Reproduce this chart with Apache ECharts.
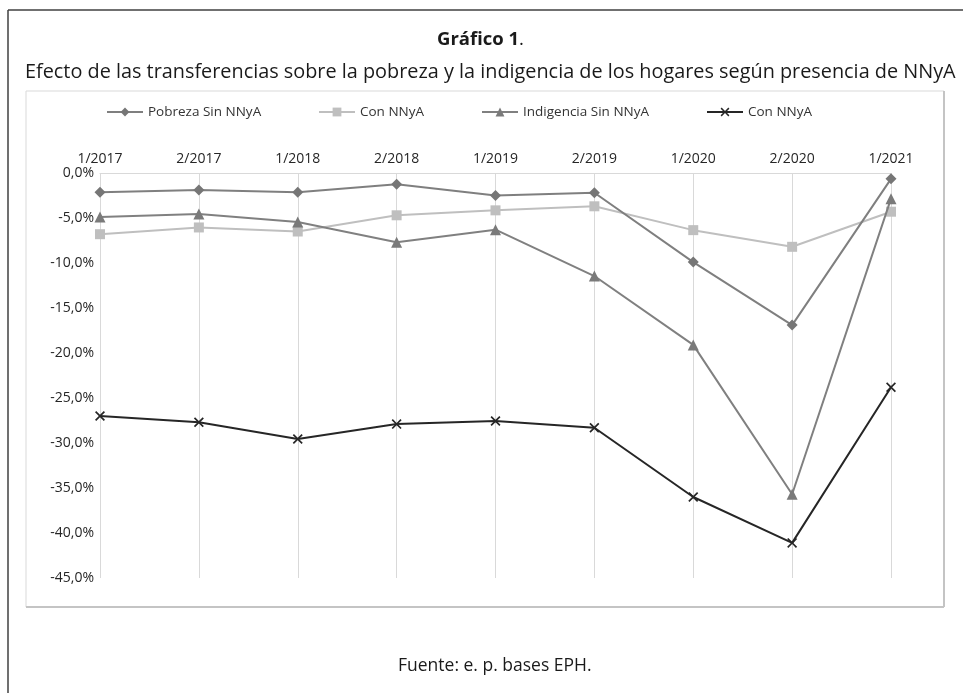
<!DOCTYPE html>
<html>
<head>
<meta charset="utf-8">
<script src="https://cdn.jsdelivr.net/npm/echarts@6/dist/echarts.min.js"></script>
<style>
html,body{margin:0;padding:0;background:#fff;}
#chart{width:963px;height:693px;}
</style>
</head>
<body>
<div id="chart"></div>
<script>
const categories = ['1/2017','2/2017','1/2018','2/2018','1/2019','2/2019','1/2020','2/2020','1/2021'];
const pobrezaSin = [-2.15, -1.9, -2.15, -1.25, -2.5, -2.2, -9.9, -16.9, -0.65];
const pobrezaCon = [-6.8, -6.05, -6.5, -4.7, -4.15, -3.7, -6.35, -8.2, -4.3];
const indigenciaSin = [-4.9, -4.55, -5.45, -7.7, -6.3, -11.45, -19.1, -35.7, -2.85];
const indigenciaCon = [-27.0, -27.7, -29.55, -27.9, -27.55, -28.3, -36.0, -41.1, -23.8];
const yTicks = {min: -45, max: 0, interval: 5};

const FONT = "'Open Sans', sans-serif";
const chart = echarts.init(document.getElementById('chart'));
const xPath = 'path://M0,1.2L1.2,0L5,3.8L8.8,0L10,1.2L6.2,5L10,8.8L8.8,10L5,6.2L1.2,10L0,8.8L3.8,5Z';

function leg(name, left) {
  return {
    data: [name], left: left, top: 105, itemWidth: 36, itemHeight: 11, itemGap: 6,
    selectedMode: false, padding: 0,
    formatter: n => n.replace(/ \(.*\)$/, ''),
    textStyle: {fontFamily: FONT, fontSize: 13.5, color: '#333'}
  };
}

chart.setOption({
  animation: false,
  backgroundColor: '#fff',
  title: [
    {text: '{b|Gráfico 1}{n|.}', left: 437, top: 30, padding: 0,
      textStyle: {rich: {
        b: {fontFamily: FONT, fontSize: 18.5, fontWeight: 'bold', color: '#1a1a1a'},
        n: {fontFamily: FONT, fontSize: 18.5, fontWeight: 'normal', color: '#1a1a1a'}}}},
    {text: 'Efecto de las transferencias sobre la pobreza y la indigencia de los hogares según presencia de NNyA', left: 25, top: 62, padding: 0,
      textStyle: {fontFamily: FONT, fontSize: 19.85, fontWeight: 'normal', color: '#1a1a1a'}},
    {text: 'Fuente: e. p. bases EPH.', left: 398, top: 657, padding: 0,
      textStyle: {fontFamily: FONT, fontSize: 17.5, fontWeight: 'normal', color: '#1a1a1a'}}
  ],
  graphic: [
    {type: 'line', shape: {x1: 8, y1: 10, x2: 963, y2: 10}, style: {stroke: '#404040', lineWidth: 1.5}},
    {type: 'line', shape: {x1: 8, y1: 10, x2: 8, y2: 693}, style: {stroke: '#404040', lineWidth: 1.5}},
    {type: 'rect', shape: {x: 26, y: 91, width: 918, height: 516}, style: {fill: 'none', stroke: '#d9d9d9', lineWidth: 1}, z: -1},
    {type: 'line', shape: {x1: 26, y1: 607, x2: 944, y2: 607}, style: {stroke: '#c4c4c4', lineWidth: 2}},
    {type: 'line', shape: {x1: 944, y1: 91, x2: 944, y2: 607}, style: {stroke: '#c4c4c4', lineWidth: 2}}
  ],
  legend: [
    leg('Pobreza Sin NNyA', 106),
    leg('Con NNyA (pobreza)', 318),
    leg('Indigencia Sin NNyA', 481),
    leg('Con NNyA (indigencia)', 706)
  ],
  grid: {left: 100, right: 72, top: 173, bottom: 115},
  xAxis: {
    type: 'category', data: categories, position: 'top', boundaryGap: false,
    axisLine: {show: true, lineStyle: {color: '#d9d9d9', width: 1}},
    axisTick: {show: false},
    splitLine: {show: true, lineStyle: {color: '#d9d9d9', width: 1}},
    axisLabel: {fontFamily: FONT, fontSize: 14, color: '#262626', margin: 7}
  },
  yAxis: {
    type: 'value', min: yTicks.min, max: yTicks.max, interval: yTicks.interval,
    axisLine: {show: false}, axisTick: {show: false}, splitLine: {show: false},
    axisLabel: {fontFamily: FONT, fontSize: 14, color: '#262626', margin: 6,
      formatter: v => v.toFixed(1).replace('.', ',') + '%'}
  },
  series: [
    {name: 'Pobreza Sin NNyA', type: 'line', data: pobrezaSin, symbol: 'diamond', symbolSize: 11,
      lineStyle: {color: '#7f7f7f', width: 2}, itemStyle: {color: '#767676'}, z: 3},
    {name: 'Con NNyA (pobreza)', type: 'line', data: pobrezaCon, symbol: 'rect', symbolSize: 10,
      lineStyle: {color: '#bfbfbf', width: 2}, itemStyle: {color: '#bfbfbf'}, z: 2},
    {name: 'Indigencia Sin NNyA', type: 'line', data: indigenciaSin, symbol: 'triangle', symbolSize: 11,
      lineStyle: {color: '#808080', width: 2}, itemStyle: {color: '#7a7a7a'}, z: 3},
    {name: 'Con NNyA (indigencia)', type: 'line', data: indigenciaCon, symbol: xPath, symbolSize: 10,
      lineStyle: {color: '#262626', width: 2}, itemStyle: {color: '#262626'}, z: 4}
  ]
});
</script>
</body>
</html>
